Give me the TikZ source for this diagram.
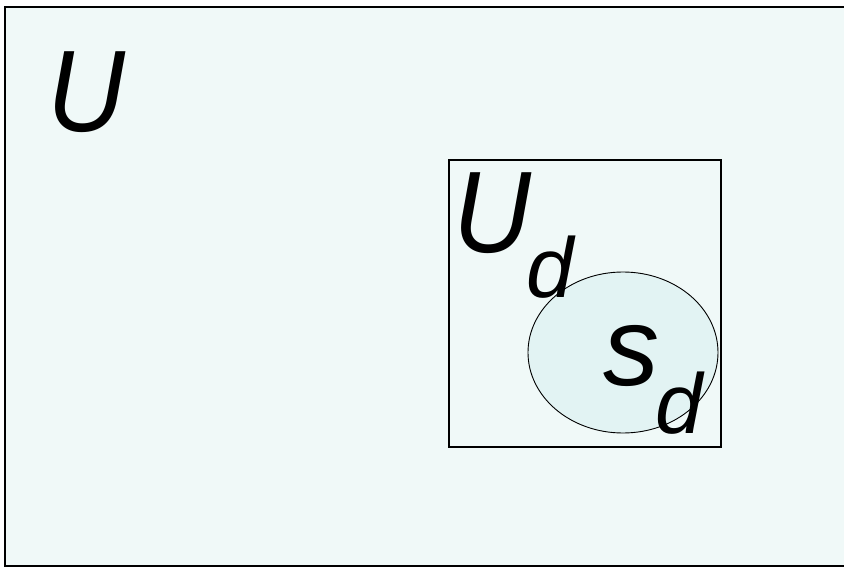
\documentclass[tikz,border=0pt]{standalone}
\usepackage{fontspec}
\setmainfont{Liberation Sans}
\usetikzlibrary{shapes.geometric}
\definecolor{bgfill}{HTML}{F0F9F8}
\definecolor{ellfill}{HTML}{E2F3F3}
\begin{document}
\begin{tikzpicture}[x=1pt,y=-1pt,
  bigtxt/.style={inner sep=0pt,anchor=base west,font=\fontsize{116}{116}\selectfont\itshape},
  stxt/.style={inner sep=0pt,anchor=base west,font=\fontsize{112}{112}\selectfont\itshape},
  subtxt/.style={inner sep=0pt,anchor=base west,font=\fontsize{85}{85}\selectfont\itshape}]
\useasboundingbox (0,0) rectangle (844,567);
\fill[white] (0,0) rectangle (844,567);
\draw[line width=1.5pt,fill=bgfill] (5,7) rectangle (850,566);
\draw[line width=1.2pt] (449,160) rectangle (721,447);
\node[draw,line width=0.9pt,fill=ellfill,ellipse,minimum width=190pt,minimum height=161pt,inner sep=0pt] (sd) at (623,352.5) {};
\node[bigtxt] (U) at (47,132) {\scalebox{0.93}[1]{U}};
\node[bigtxt] (Ud) at (453,252) {\scalebox{0.93}[1]{U}};
\node[subtxt] (d1) at (526,297) {d};
\node[stxt] (s) at (603,385) {s};
\node[subtxt] (d2) at (655,433) {d};
\end{tikzpicture}
\end{document}
